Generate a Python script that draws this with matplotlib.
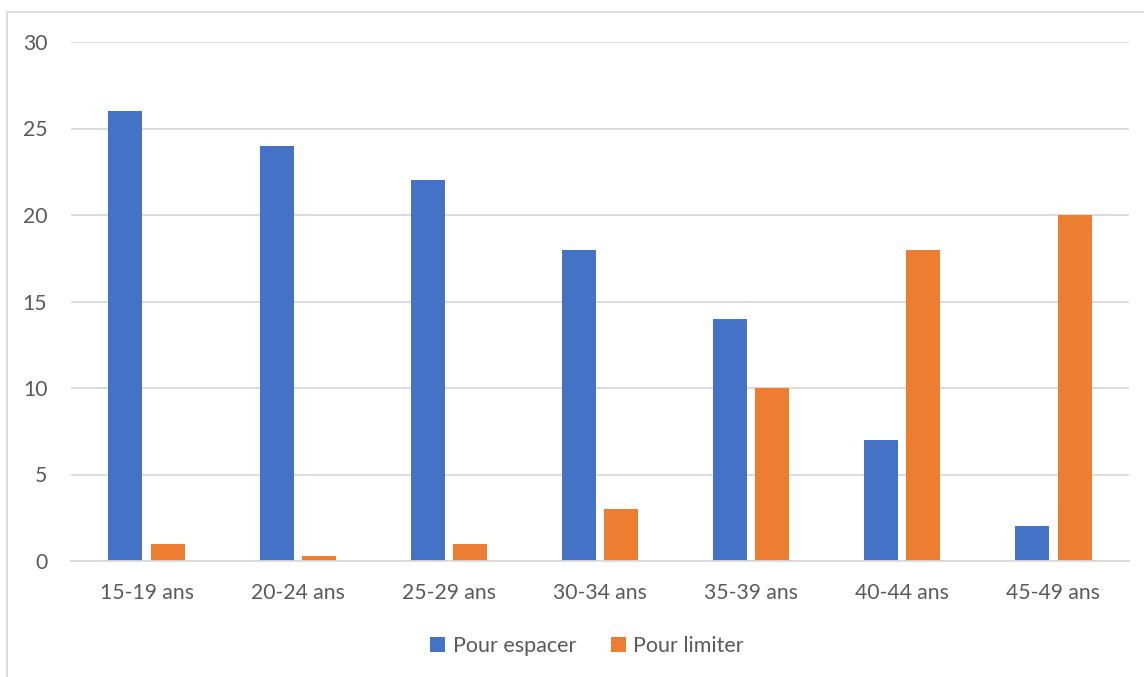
import matplotlib
matplotlib.use("Agg")
import matplotlib.pyplot as plt
import numpy as np
from matplotlib.patches import Rectangle

categories = ["15-19 ans", "20-24 ans", "25-29 ans", "30-34 ans", "35-39 ans", "40-44 ans", "45-49 ans"]
pour_espacer = [26, 24, 22, 18, 14, 7, 2]
pour_limiter = [1, 0.3, 1, 3, 10, 18, 20]
y_ticks = [0, 5, 10, 15, 20, 25, 30]

BLUE = "#4472C4"
ORANGE = "#ED7D31"
GRID = "#D9D9D9"
TEXT = "#595959"

plt.rcParams["font.family"] = ["Lato", "DejaVu Sans"]

W, H = 1144, 677
fig = plt.figure(figsize=(W / 100, H / 100), dpi=100)

# light frame around the chart area
fig.patches.append(Rectangle((7 / W, -0.1), 1.2, (H - 12) / H + 0.1,
                             transform=fig.transFigure, fill=False,
                             edgecolor=GRID, linewidth=1.3))

ax = fig.add_axes([71 / W, (H - 561) / H, (1129 - 71) / W, (561 - 42) / H])

x = np.arange(len(categories))
width = 0.225
offset = 0.14
ax.bar(x - offset, pour_espacer, width, color=BLUE, label="Pour espacer", zorder=3)
ax.bar(x + offset, pour_limiter, width, color=ORANGE, label="Pour limiter", zorder=3)

ax.set_xlim(-0.5, len(categories) - 0.5)
ax.set_ylim(0, 30)
ax.set_yticks(y_ticks)
ax.set_xticks(x)
ax.set_xticklabels(categories)

ax.grid(axis="y", color=GRID, linewidth=1.3, zorder=0)
for s in ["top", "right", "left"]:
    ax.spines[s].set_visible(False)
ax.spines["bottom"].set_color(GRID)
ax.spines["bottom"].set_linewidth(1.3)
ax.spines["bottom"].set_zorder(4)

ax.tick_params(axis="both", length=0, labelsize=15.2, labelcolor=TEXT)
ax.tick_params(axis="y", pad=17)
ax.tick_params(axis="x", pad=16)

leg = fig.legend(loc="center", bbox_to_anchor=(587 / W, (H - 646) / H), ncol=2,
                 frameon=False, fontsize=15.5, handlelength=0.7, handleheight=0.7,
                 handletextpad=0.35, columnspacing=1.6)
for t in leg.get_texts():
    t.set_color(TEXT)

fig.savefig("out.png", dpi=100, facecolor="white")
